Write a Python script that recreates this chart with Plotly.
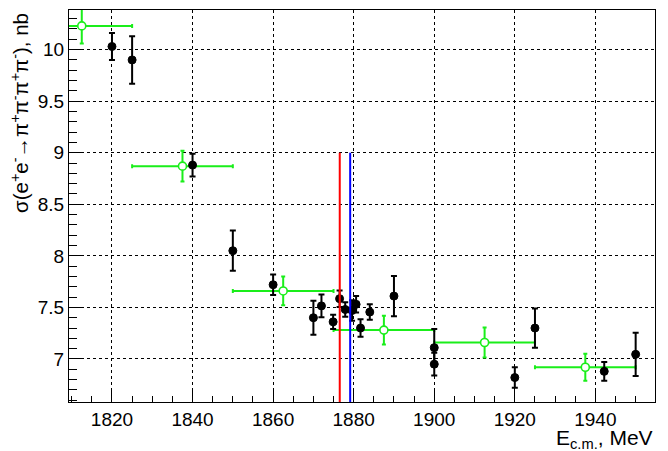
import plotly.graph_objects as go

# ---- data ----
black_x = [1820, 1825, 1840, 1850, 1860, 1870, 1872, 1874.9, 1876.5, 1877.9,
           1879.6, 1880.6, 1881.7, 1884, 1890, 1900, 1900, 1920, 1925, 1942.2, 1950]
black_y = [10.03, 9.90, 8.88, 8.05, 7.72, 7.40, 7.515, 7.36, 7.585, 7.48,
           7.47, 7.53, 7.30, 7.455, 7.61, 7.11, 6.95, 6.82, 7.30, 6.88, 7.045]
black_err = [0.13, 0.23, 0.11, 0.195, 0.10, 0.165, 0.11, 0.07, 0.08, 0.07,
             0.10, 0.08, 0.085, 0.075, 0.195, 0.18, 0.11, 0.10, 0.19, 0.09, 0.21]

green_x = [1812.5, 1837.5, 1862.5, 1887.5, 1912.5, 1937.5]
green_xerr = [12.5, 12.5, 12.5, 12.5, 12.5, 12.5]
green_y = [10.23, 8.87, 7.66, 7.28, 7.16, 6.92]
green_yerr = [0.17, 0.15, 0.14, 0.14, 0.145, 0.13]

thresholds = [1876.54, 1879.13]       # 2m_p, 2m_n
threshold_colors = ["#ff0000", "#0000ff"]
threshold_top = 9.0

x_range = [1809.33, 1954.8]
y_range = [6.583, 10.384]
x_ticks = [1820, 1840, 1860, 1880, 1900, 1920, 1940]
y_ticks = [7, 7.5, 8, 8.5, 9, 9.5, 10]
y_ticktext = ["7", "7.5", "8", "8.5", "9", "9.5", "10"]

FONT = "Liberation Sans, Arial, sans-serif"
GREEN = "#1aee1a"

fig = go.Figure()

fig.add_trace(go.Scatter(
    x=green_x, y=green_y, mode="markers",
    marker=dict(symbol="circle", size=8, color="white",
                line=dict(color=GREEN, width=1.6)),
    error_x=dict(type="data", array=green_xerr, color=GREEN, thickness=2, width=2),
    error_y=dict(type="data", array=green_yerr, color=GREEN, thickness=2, width=2),
    showlegend=False, cliponaxis=True,
))

fig.add_trace(go.Scatter(
    x=black_x, y=black_y, mode="markers",
    marker=dict(symbol="circle", size=8, color="black",
                line=dict(color="black", width=1)),
    error_y=dict(type="data", array=black_err, color="black", thickness=2, width=3),
    showlegend=False, cliponaxis=True,
))

for xv, col in zip(thresholds, threshold_colors):
    fig.add_shape(type="line", xref="x", yref="y",
                  x0=xv, x1=xv, y0=y_range[0], y1=threshold_top,
                  line=dict(color=col, width=2), layer="above")

axis_common = dict(
    showline=True, linecolor="black", linewidth=1, mirror=True,
    ticks="inside", tickcolor="black", tickwidth=1,
    showgrid=True, gridcolor="black", griddash="dot", gridwidth=1,
    zeroline=False,
    tickfont=dict(family=FONT, size=19, color="black"),
)

fig.update_xaxes(
    range=x_range, tickmode="array", tickvals=x_ticks, ticklen=12,
    minor=dict(ticks="inside", dtick=5, tick0=1820, ticklen=6,
               tickcolor="black", showgrid=False),
    **axis_common,
)
fig.update_yaxes(
    range=y_range, tickmode="array", tickvals=y_ticks, ticktext=y_ticktext,
    ticklen=15,
    minor=dict(ticks="inside", dtick=0.1, tick0=7, ticklen=8,
               tickcolor="black", showgrid=False),
    **axis_common,
)

fig.add_annotation(
    text="σ(e<sup>+</sup>e<sup>-</sup>→π<sup>+</sup>π<sup>-</sup>π<sup>+</sup>π<sup>-</sup>), nb",
    textangle=-90, xref="paper", yref="paper",
    x=-0.084, y=0.997, xanchor="center", yanchor="top",
    showarrow=False, font=dict(family=FONT, size=20.5, color="black"),
)
fig.add_annotation(
    text="E<sub>c.m.</sub>, MeV",
    xref="paper", yref="paper", x=1.0, y=-0.094,
    xanchor="right", yanchor="middle",
    showarrow=False, font=dict(family=FONT, size=21, color="black"),
)

fig.update_layout(
    width=668, height=451,
    margin=dict(l=69, r=13, t=10, b=49),
    paper_bgcolor="white", plot_bgcolor="white",
    font=dict(family=FONT, color="black"),
)

fig.write_html("out.html")
